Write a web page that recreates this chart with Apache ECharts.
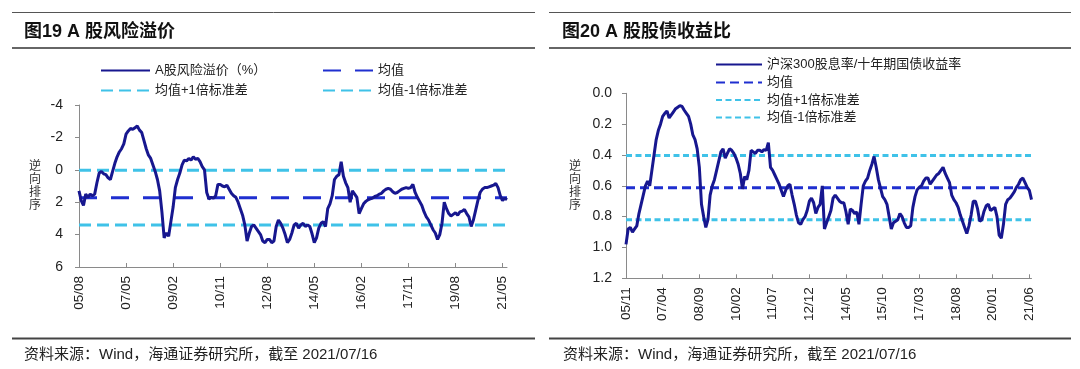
<!DOCTYPE html>
<html><head><meta charset="utf-8">
<script src="https://cdn.jsdelivr.net/npm/echarts@6/dist/echarts.min.js"></script>
<style>html,body{margin:0;padding:0;background:#fff}#c{width:1080px;height:369px}</style>
</head><body><div id="c"></div>
<script>
// month label helper: "YY/MM"
function months(y, m, n) {
  const a = [];
  for (let i = 0; i < n; i++) {
    const t = m - 1 + i;
    const yy = y + Math.floor(t / 12), mm = t % 12 + 1;
    a.push(String(yy % 100).padStart(2, '0') + '/' + String(mm).padStart(2, '0'));
  }
  return a;
}

// ---------- Figure 19 ----------
const cats19 = months(2005, 8, 192);   // 05/08 .. 21/07
const risk19 = [
  1.3,1.9,2.2,1.5,1.7,1.5,1.6,1.5,0.8,0.2,
  0.1,0.25,0.3,0.5,0.6,0.1,-0.4,-0.8,-1.1,-1.3,
  -1.6,-2.2,-2.4,-2.55,-2.5,-2.6,-2.7,-2.45,-2.3,-1.8,
  -1.3,-0.9,-0.7,-0.3,0.1,0.6,1.3,2.6,4.2,3.9,
  4.1,3.2,2.3,1.1,0.6,0.2,-0.3,-0.6,-0.55,-0.7,
  -0.6,-0.8,-0.65,-0.7,-0.5,-0.2,0.0,1.4,1.8,1.7,
  1.75,1.6,0.9,0.9,1.0,1.05,0.95,1.2,1.45,1.6,
  1.7,2.0,2.4,2.8,3.4,4.4,3.9,3.5,3.4,3.6,
  3.8,4.0,4.4,4.5,4.3,4.3,4.5,4.4,3.5,3.1,
  3.3,3.6,4.0,4.5,4.3,3.9,3.4,3.3,3.6,3.4,
  3.3,3.5,3.4,3.5,3.95,4.5,4.2,3.6,3.3,3.2,
  3.5,2.4,2.1,1.6,0.6,0.4,0.3,-0.5,0.4,0.8,
  1.1,2.0,1.3,1.5,1.7,2.7,2.4,2.1,1.95,1.85,
  1.8,1.75,1.65,1.6,1.5,1.45,1.3,1.2,1.15,1.2,
  1.35,1.45,1.4,1.3,1.2,1.15,1.1,1.15,1.1,0.9,
  1.4,1.7,1.95,2.2,2.6,2.9,3.1,3.4,3.7,3.9,
  4.3,4.0,3.3,2.0,2.4,2.7,2.85,2.75,2.65,2.8,
  2.6,2.55,2.45,2.7,2.9,3.5,3.1,2.5,1.9,1.4,
  1.2,1.1,1.1,1.05,1.0,0.95,0.85,1.1,1.6,1.9,
  1.75,1.85
];
const mean19 = 1.72, upper19 = 0.03, lower19 = 3.41;
const yTicks19 = { min: -4, max: 6, interval: 2 };

// ---------- Figure 20 ----------
const cats20 = months(2005, 11, 189);  // 05/11 .. 21/07
const ratio20 = [
  0.98,0.88,0.87,0.9,0.88,0.86,0.78,0.72,0.66,0.6,
  0.57,0.6,0.5,0.4,0.3,0.24,0.2,0.15,0.13,0.115,
  0.16,0.14,0.12,0.1,0.09,0.08,0.085,0.11,0.13,0.15,
  0.2,0.27,0.3,0.36,0.48,0.72,0.8,0.87,0.82,0.66,
  0.6,0.56,0.5,0.44,0.38,0.36,0.42,0.39,0.36,0.37,
  0.39,0.42,0.46,0.52,0.62,0.54,0.56,0.5,0.37,0.38,
  0.39,0.37,0.37,0.38,0.365,0.37,0.32,0.48,0.5,0.53,
  0.56,0.59,0.63,0.67,0.63,0.6,0.59,0.66,0.72,0.79,
  0.84,0.85,0.82,0.8,0.76,0.7,0.68,0.71,0.78,0.74,
  0.72,0.6,0.88,0.84,0.8,0.76,0.68,0.66,0.68,0.7,
  0.71,0.71,0.77,0.85,0.75,0.76,0.78,0.77,0.85,0.72,
  0.6,0.57,0.55,0.5,0.46,0.41,0.48,0.56,0.615,0.67,
  0.69,0.72,0.8,0.88,0.84,0.83,0.82,0.78,0.8,0.84,
  0.87,0.87,0.86,0.74,0.67,0.625,0.61,0.6,0.57,0.55,
  0.55,0.59,0.57,0.55,0.53,0.52,0.5,0.48,0.52,0.55,
  0.58,0.66,0.69,0.71,0.74,0.79,0.83,0.87,0.91,0.86,
  0.79,0.7,0.7,0.75,0.83,0.82,0.765,0.73,0.72,0.76,
  0.75,0.74,0.8,0.92,0.94,0.85,0.72,0.69,0.68,0.66,
  0.64,0.61,0.59,0.56,0.55,0.58,0.61,0.63,0.69
];
const mean20 = 0.612, upper20 = 0.404, lower20 = 0.82;
const yTicks20 = { min: 0, max: 1.2, interval: 0.2 };

const FONT = "'Liberation Sans','Noto Sans CJK SC',sans-serif";
const NAVY = '#17178f', BLUE = '#1f2fd0', CYAN = '#3fc2e8';

const names19 = ['A股风险溢价（%）', '均值', '均值+1倍标准差', '均值-1倍标准差'];
const names20 = ['沪深300股息率/十年期国债收益率', '均值\u200b', '均值+1倍标准差\u200b', '均值-1倍标准差\u200b'];

function lg(name, left, top, w) {
  return {
    data: [name], left: left, top: top, itemWidth: w, itemHeight: 14,
    padding: 0, selectedMode: false, itemGap: 0,
    itemStyle: { opacity: 0 },
    textStyle: { fontSize: 13, color: '#222', fontFamily: FONT }
  };
}

function xAx(gi, cats, interval, margin) {
  return {
    type: 'category', gridIndex: gi, data: cats, boundaryGap: false,
    axisLine: { onZero: false, lineStyle: { color: '#8a8a8a', width: 1 } },
    axisTick: { inside: true, length: 4, interval: interval, lineStyle: { color: '#8a8a8a' } },
    axisLabel: { interval: interval, rotate: 90, margin: margin, fontSize: 13.5, color: '#222', fontFamily: FONT },
    splitLine: { show: false }
  };
}
function yAx(gi, t, fmt, margin) {
  return {
    type: 'value', gridIndex: gi, inverse: true, min: t.min, max: t.max, interval: t.interval,
    axisLine: { show: true, onZero: false, lineStyle: { color: '#8a8a8a', width: 1 } },
    axisTick: { show: true, length: 4, lineStyle: { color: '#8a8a8a' } },
    axisLabel: { margin: margin, fontSize: 14, color: '#222', fontFamily: FONT, formatter: fmt },
    splitLine: { show: false }
  };
}
function ln(name, gi, data, color, width, type, z) {
  return {
    type: 'line', name: name, xAxisIndex: gi, yAxisIndex: gi, data: data,
    symbol: 'none', silent: true, animation: false, z: z,
    lineStyle: { color: color, width: width, type: type },
    itemStyle: { color: color }
  };
}

const hr = (x1, x2, y, w, c) => ({ type: 'line', shape: { x1: x1, y1: y, x2: x2, y2: y }, style: { stroke: c, lineWidth: w }, silent: true });
const txt = (t, x, y, font, extra) => ({ type: 'text', x: x, y: y, silent: true,
  style: Object.assign({ text: t, font: font, fill: '#111', textVerticalAlign: 'middle', verticalAlign: 'middle' }, extra || {}) });

const option = {
  animation: false,
  backgroundColor: '#fff',
  grid: [
    { left: 79, top: 105, width: 428, height: 162 },
    { left: 626, top: 93.3, width: 405.5, height: 185 }
  ],
  xAxis: [xAx(0, cats19, 20, 9), xAx(1, cats20, 16, 9)],
  yAxis: [yAx(0, yTicks19, v => String(v), 16), yAx(1, yTicks20, v => v.toFixed(1), 14)],
  legend: [
    lg(names19[0], 100, 64, 49), lg(names19[1], 322, 64, 50),
    lg(names19[2], 100, 84, 49), lg(names19[3], 322, 84, 50),
    lg(names20[0], 715, 58, 46), lg(names20[1], 715, 76, 46),
    lg(names20[2], 715, 93.5, 46), lg(names20[3], 715, 111, 46)
  ],
  series: [
    ln(names19[2], 0, cats19.map(() => upper19), CYAN, 3, [12, 6], 2),
    ln(names19[3], 0, cats19.map(() => lower19), CYAN, 3, [12, 6], 2),
    ln(names19[1], 0, cats19.map(() => mean19), BLUE, 3, [18, 14], 3),
    ln(names19[0], 0, risk19, NAVY, 3, 'solid', 4),
    ln(names20[2], 1, cats20.map(() => upper20), CYAN, 3, [6, 3.5], 2),
    ln(names20[3], 1, cats20.map(() => lower20), CYAN, 3, [6, 3.5], 2),
    ln(names20[1], 1, cats20.map(() => mean20), BLUE, 3, [9, 5], 3),
    ln(names20[0], 1, ratio20, NAVY, 3, 'solid', 4)
  ],
  graphic: [
    hr(12, 535, 12.5, 1, '#555'),
    hr(12, 535, 48, 2, '#666'),
    hr(12, 535, 338.5, 2, '#444'),
    hr(549, 1071, 12.5, 1, '#555'),
    hr(549, 1071, 48, 2, '#666'),
    hr(549, 1071, 338.5, 2, '#444'),
    txt('图19 A 股风险溢价', 24, 32, 'bold 18px ' + FONT),
    txt('图20 A 股股债收益比', 562, 32, 'bold 18px ' + FONT),
    txt('资料来源：Wind，海通证券研究所，截至 2021/07/16', 24, 355, '15px ' + FONT, { fill: '#222' }),
    txt('资料来源：Wind，海通证券研究所，截至 2021/07/16', 563, 355, '15px ' + FONT, { fill: '#222' }),
    txt('逆\n向\n排\n序', 35, 186, '12px ' + FONT, { fill: '#333', textAlign: 'center', align: 'center', lineHeight: 13 }),
    txt('逆\n向\n排\n序', 575, 186, '12px ' + FONT, { fill: '#333', textAlign: 'center', align: 'center', lineHeight: 13 })
  ]
};

const chart = echarts.init(document.getElementById('c'), null, { renderer: 'canvas' });
chart.setOption(option);
</script>
</body></html>
